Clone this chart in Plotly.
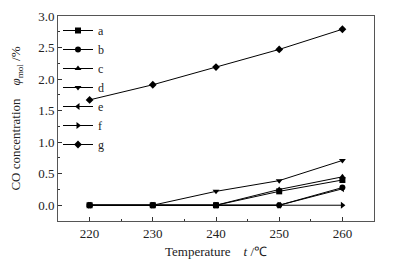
import plotly.graph_objects as go

temps = [220, 230, 240, 250, 260]
series_names = ["a", "b", "c", "d", "e", "f", "g"]
a_vals = [0, 0, 0, 0.22, 0.40]
b_vals = [0, 0, 0, 0, 0.28]
c_vals = [0, 0, 0, 0.25, 0.45]
d_vals = [0, 0, 0.22, 0.39, 0.71]
e_vals = [0, 0, 0, 0, 0.26]
f_vals = [0, 0, 0, 0, 0]
g_vals = [1.67, 1.91, 2.19, 2.47, 2.79]

values = [a_vals, b_vals, c_vals, d_vals, e_vals, f_vals, g_vals]
symbols = ["square", "circle", "triangle-up", "triangle-down", "triangle-left", "triangle-right", "diamond"]

fig = go.Figure()
for name, vals, sym in zip(series_names, values, symbols):
    fig.add_trace(go.Scatter(
        x=temps, y=vals, name=name, mode="lines+markers",
        line=dict(color="black", width=1),
        marker=dict(symbol=sym, size=6, color="black"),
    ))

font_family = "Liberation Serif"
axis_common = dict(
    showline=True, linecolor="#555", linewidth=1, mirror=True,
    ticks="inside", ticklen=4, tickcolor="#333",
    showgrid=False, zeroline=False, automargin=False,
    ticklabeloverflow="allow",
    minor=dict(ticks="inside", ticklen=2, tickcolor="#333"),
)

# page body has an 8px margin; figure is sized so the plot lands where the reference has it
fig.update_layout(
    width=387, height=251,
    margin=dict(l=50, r=21, t=8, b=38),
    paper_bgcolor="white", plot_bgcolor="white",
    font=dict(family=font_family, size=13, color="#222"),
    showlegend=True,
    legend=dict(x=0.0, y=1.0, xanchor="left", yanchor="top",
                bgcolor="rgba(0,0,0,0)", font=dict(size=12, family=font_family),
                tracegroupgap=0),
    xaxis=dict(range=[215, 265], tickvals=[220, 230, 240, 250, 260],
               tickfont=dict(family=font_family, size=13, color="#222"),
               title=dict(text="Temperature    <i>t</i> /℃",
                          font=dict(family=font_family, size=13)),
               **axis_common),
    yaxis=dict(range=[-0.25, 3.0], tickvals=[0, 0.5, 1.0, 1.5, 2.0, 2.5, 3.0],
               tickformat=".1f",
               tickfont=dict(family=font_family, size=13, color="#222"),
               title=dict(text="CO concentration    <i>φ</i><sub>mol</sub> /%",
                          font=dict(family=font_family, size=13)),
               **axis_common),
)
fig.update_xaxes(minor=dict(tickvals=[225, 235, 245, 255]))
fig.update_yaxes(minor=dict(tickvals=[-0.25, 0.25, 0.75, 1.25, 1.75, 2.25, 2.75]))

fig.write_html("out.html")
